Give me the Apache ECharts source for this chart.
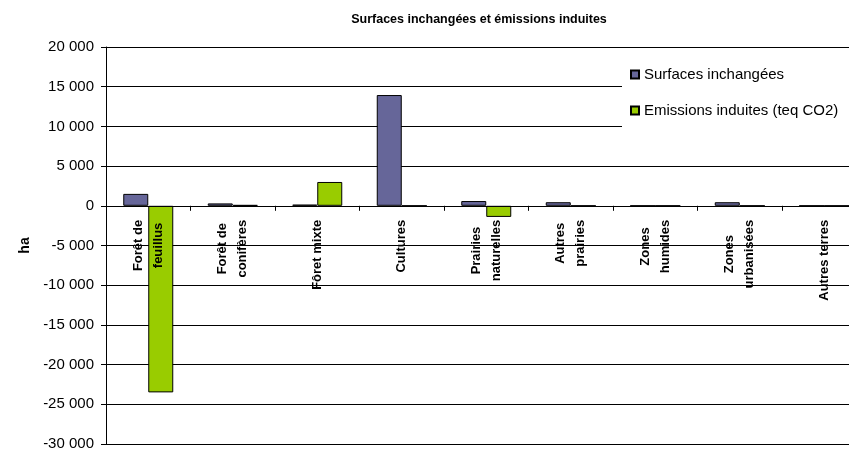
<!DOCTYPE html>
<html>
<head>
<meta charset="utf-8">
<script src="https://cdn.jsdelivr.net/npm/echarts@6/dist/echarts.min.js"></script>
<style>html,body{margin:0;padding:0;background:#fff}#c{width:849px;height:449px}</style>
</head>
<body>
<div id="c"></div>
<script>
var categories = [
  'Forêt de\nfeuillus', 'Forêt de\nconifères', 'Fôret mixte', 'Cultures',
  'Prairies\nnaturelles', 'Autres\nprairies', 'Zones\nhumides', 'Zones\nurbanisées', 'Autres terres'
];
var surfaces = [1500, 300, 150, 13950, 600, 450, 0, 450, 0];
var emissions = [-23500, 100, 3000, 0, -1400, 0, 0, 0, 0];
var seriesNames = ['Surfaces inchangées', 'Emissions induites (teq CO2)'];
var titleText = 'Surfaces inchangées et émissions induites';
var yName = 'ha';

var FONT = '"Liberation Sans", Arial, sans-serif';
var chart = echarts.init(document.getElementById('c'), null, {renderer: 'canvas'});

function fmt(v) {
  var s = String(Math.abs(v));
  s = s.replace(/\B(?=(\d{3})+(?!\d))/g, ' ');
  return (v < 0 ? '-' : '') + s;
}

var GRID_TOP = 47, GRID_H = 397, YMIN = -30000, YMAX = 20000;
var zeroOffset = -GRID_H * (0 - YMIN) / (YMAX - YMIN);

chart.setOption({
  animation: false,
  backgroundColor: '#fff',
  title: {
    text: titleText,
    left: 479, top: 13, padding: 0,
    textAlign: 'center',
    textStyle: {fontFamily: FONT, fontSize: 12.5, fontWeight: 'bold', color: '#000'}
  },
  legend: {
    orient: 'vertical',
    left: 622, top: 55,
    padding: [12, 30, 10, 8],
    backgroundColor: '#fff',
    itemWidth: 8, itemHeight: 8, itemGap: 21,
    icon: 'rect',
    textStyle: {fontFamily: FONT, fontSize: 15, color: '#000'},
    data: seriesNames
  },
  grid: {left: 106, top: GRID_TOP, width: 760.5, height: GRID_H, containLabel: false, outerBoundsMode: 'none'},
  xAxis: {
    type: 'category',
    data: categories,
    position: 'bottom',
    offset: zeroOffset,
    z: 10,
    axisLine: {onZero: false, lineStyle: {color: '#000', width: 1}},
    axisTick: {show: true, alignWithLabel: false, inside: false, length: 5, lineStyle: {color: '#000'}},
    axisLabel: {
      interval: 0, rotate: 90, margin: 14,
      fontFamily: FONT, fontSize: 13, fontWeight: 'bold', color: '#000',
      lineHeight: 20,
      formatter: function (v) {
        return v.split('\n').map(function (l) { return '{c|' + l + '}'; }).join('\n');
      },
      rich: {c: {align: 'center', fontFamily: FONT, fontSize: 13, fontWeight: 'bold', color: '#000', lineHeight: 20}}
    },
    splitLine: {show: false}
  },
  yAxis: {
    type: 'value',
    min: YMIN, max: YMAX, interval: 5000,
    name: yName,
    nameLocation: 'middle',
    nameGap: 72,
    nameRotate: 90,
    nameTextStyle: {fontFamily: FONT, fontSize: 14, fontWeight: 'bold', color: '#000'},
    axisLine: {show: true, lineStyle: {color: '#000', width: 1}},
    axisTick: {show: true, length: 5, lineStyle: {color: '#000'}},
    axisLabel: {
      margin: 12,
      fontFamily: FONT, fontSize: 15, color: '#000',
      formatter: fmt
    },
    splitLine: {show: true, lineStyle: {color: '#000', width: 1}}
  },
  series: [
    {
      name: seriesNames[0], type: 'bar', data: surfaces,
      barWidth: 25, barGap: '0%',
      itemStyle: {color: '#666699', borderColor: '#000', borderWidth: 1}
    },
    {
      name: seriesNames[1], type: 'bar', data: emissions,
      barWidth: 25, barGap: '0%',
      itemStyle: {color: '#99CC00', borderColor: '#000', borderWidth: 1}
    }
  ]
});
</script>
</body>
</html>
